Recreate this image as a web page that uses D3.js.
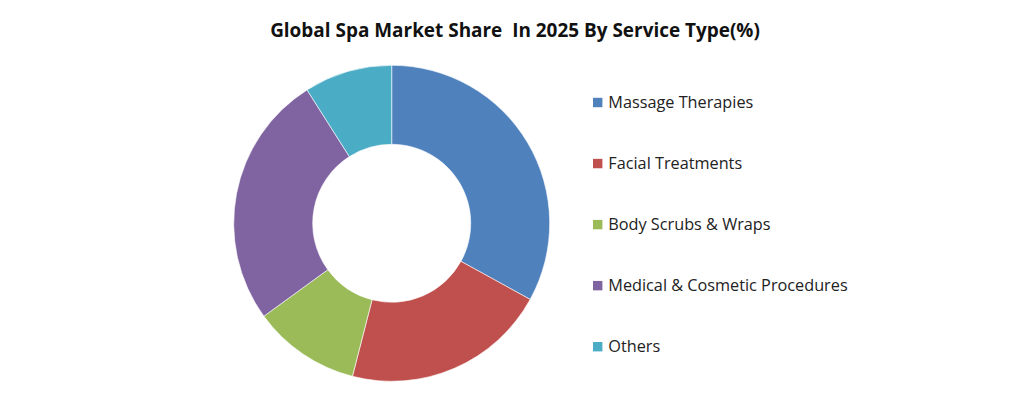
<!DOCTYPE html>
<html><head><meta charset="utf-8">
<script src="https://cdn.jsdelivr.net/npm/d3@7"></script>
<style>html,body{margin:0;padding:0;background:#fff;}</style>
</head><body>
<svg id="chart" width="1024" height="406"></svg>
<script>
const categories = ["Massage Therapies","Facial Treatments","Body Scrubs & Wraps","Medical & Cosmetic Procedures","Others"];
const values = [33, 21, 11, 26, 9];
const colors = ["#4F81BD","#C0504D","#9BBB59","#8064A2","#4BACC6"];
const title = "Global Spa Market Share  In 2025 By Service Type(%)";

const svg = d3.select("#chart");
const font = "'Open Sans', 'Noto Sans', sans-serif";

// title
const t = svg.append("text").attr("x", 515).attr("y", 37)
  .attr("text-anchor","middle").attr("font-family", font).attr("font-weight","bold")
  .attr("font-size", 20).attr("fill","#111").style("white-space","pre").text(title);
// fit width to reference
const tw = t.node().getComputedTextLength();
t.attr("font-size", 20*490/tw);

const cx = 391.7, cy = 223.3, rOuter = 158, rInner = 79;
const pie = d3.pie().sort(null).value(d => d)(values);
const arc = d3.arc().innerRadius(rInner).outerRadius(rOuter);
const color = d3.scaleOrdinal().domain(categories).range(colors);

svg.append("g").attr("transform",`translate(${cx},${cy})`)
  .selectAll("path").data(pie).join("path")
  .attr("d", arc).attr("fill", (d,i) => color(categories[i]))
  .attr("stroke","#fff").attr("stroke-width",0.6);

// legend
const ly = d3.scalePoint().domain(categories).range([102.5, 346.7]);
const lg = svg.append("g");
const items = lg.selectAll("g").data(categories).join("g")
  .attr("transform", d => `translate(593,${ly(d)})`);
items.append("rect").attr("x",0).attr("y",-4.7).attr("width",9.4).attr("height",9.4)
  .attr("fill", d => color(d));
const txt = items.append("text").attr("x",15.3).attr("dy","0.35em")
  .attr("font-family", font).attr("font-size",16).attr("fill","#222").text(d => d);
const w0 = txt.nodes()[0].getComputedTextLength();
txt.attr("font-size", 16*145/w0);
</script>
</body></html>
